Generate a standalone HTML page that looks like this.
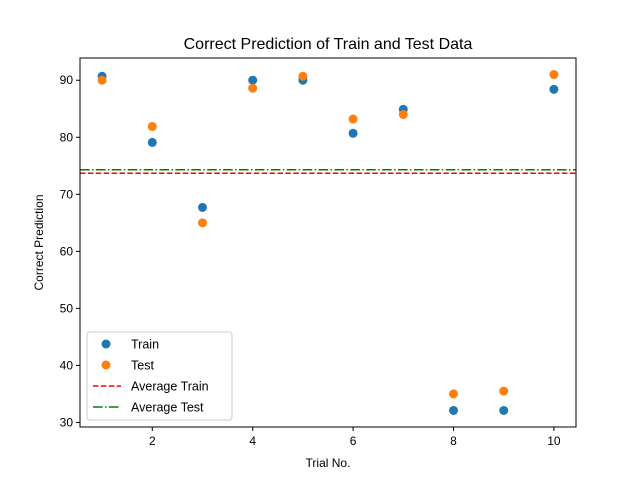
<!DOCTYPE html>
<html><head><meta charset="utf-8"><style>
body{margin:0;background:#fff}
svg{font-family:"Liberation Sans","DejaVu Sans",sans-serif}
</style></head><body>
<svg id="chart" width="640" height="480" xmlns="http://www.w3.org/2000/svg">
<rect width="640" height="480" fill="#fff"/>
</svg>
<script>
const trials=[1,2,3,4,5,6,7,8,9,10];
const trainVals=[90.7,79.1,67.7,90,90,80.7,84.9,32.1,32.1,88.4];
const testVals=[90,81.9,65,88.6,90.7,83.2,84,35,35.5,91];
const avgTrain=73.7;
const avgTest=74.3;
const xTicks=[2,4,6,8,10];
const yTicks=[30,40,50,60,70,80,90];

const L=80,R=576,T=58,B=427;
const xMin=0.56,xMax=10.44,yMin=29.2,yMax=93.9;
const sx=v=>L+(v-xMin)/(xMax-xMin)*(R-L);
const sy=v=>B-(v-yMin)/(yMax-yMin)*(B-T);
const svg=document.getElementById('chart');
const NS='http://www.w3.org/2000/svg';
function mk(tag,attrs,parent){const e=document.createElementNS(NS,tag);for(const k in attrs)e.setAttribute(k,attrs[k]);(parent||svg).appendChild(e);return e;}

const title=mk('text',{x:(L+R)/2,y:49,'text-anchor':'middle','font-size':16,fill:'#000'});
title.textContent='Correct Prediction of Train and Test Data';



xTicks.forEach(t=>{
  const g=mk('g',{});
  
  
  mk('line',{x1:sx(t),x2:sx(t),y1:B,y2:B+4,stroke:'#000'},g);
  const tx=mk('text',{x:sx(t),y:B+18,'text-anchor':'middle','font-size':12},g);tx.textContent=t;
});
yTicks.forEach(t=>{
  const g=mk('g',{});
  
  
  mk('line',{x1:L-4,x2:L,y1:sy(t),y2:sy(t),stroke:'#000'},g);
  const tx=mk('text',{x:L-7,y:sy(t)+4,'text-anchor':'end','font-size':12},g);tx.textContent=t;
});
const xl=mk('text',{x:(L+R)/2,y:467,'text-anchor':'middle','font-size':12});xl.textContent='Trial No.';


const yl=mk('text',{x:43,y:(T+B)/2,'text-anchor':'middle','font-size':12,transform:`rotate(-90 43 ${(T+B)/2})`});yl.textContent='Correct Prediction';



trials.forEach((t,i)=>{
  const c=mk('circle',{cx:sx(t),cy:sy(trainVals[i]),r:4.5,fill:'#1f77b4'});
  
  
});
trials.forEach((t,i)=>{
  const c=mk('circle',{cx:sx(t),cy:sy(testVals[i]),r:4.5,fill:'#ff7f0e'});
  
  
});
const l1=mk('line',{x1:L,x2:R,y1:sy(avgTrain),y2:sy(avgTrain),stroke:'#ff0000','stroke-width':1.5,'stroke-dasharray':'5.5,2.4'});


const l2=mk('line',{x1:L,x2:R,y1:sy(avgTest),y2:sy(avgTest),stroke:'#008000','stroke-width':1.5,'stroke-dasharray':'9.6,2.4,1.5,2.4'});



const frame=mk('rect',{x:L,y:T,width:R-L,height:B-T,fill:'none',stroke:'#000','stroke-width':1});



const lg=mk('g',{});


mk('rect',{x:87,y:332,width:145,height:88,rx:3,fill:'#fff','fill-opacity':0.8,stroke:'#ccc'},lg);
const items=[['Train','dot','#1f77b4'],['Test','dot','#ff7f0e'],['Average Train','dash','#ff0000'],['Average Test','dashdot','#008000']];
items.forEach((it,i)=>{
  const y=344+i*21;
  const e=mk('g',{},lg);
  
  
  if(it[1]==='dot')mk('circle',{cx:106,cy:y,r:4.5,fill:it[2]},e);
  else mk('line',{x1:93,x2:121,y1:y,y2:y,stroke:it[2],'stroke-width':1.5,'stroke-dasharray':it[1]==='dash'?'5.5,2.4':'9.6,2.4,1.5,2.4'},e);
  const tx=mk('text',{x:131,y:y+4.5,'font-size':12.5},e);tx.textContent=it[0];
});
</script>
</body></html>
